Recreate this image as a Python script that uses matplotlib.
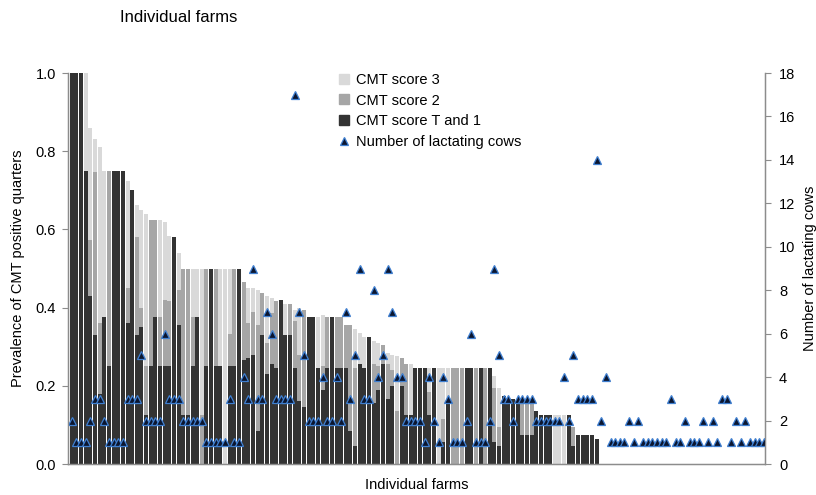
import matplotlib
matplotlib.use("Agg")
import matplotlib.pyplot as plt
from matplotlib.lines import Line2D
import numpy as np

plt.rcParams['font.family'] = ['Liberation Sans', 'DejaVu Sans']

# ---- data (farms sorted by prevalence) ----
score_t1 = [
    1.0, 1.0, 1.0, 0.75, 0.43, 0.33, 0.18, 0.375, 0.25, 0.75,
    0.75, 0.75, 0.36, 0.70, 0.33, 0.35, 0.125, 0.25, 0.375, 0.25,
    0.25, 0.25, 0.58, 0.355, 0.125, 0.125, 0.25, 0.375, 0.0, 0.25,
    0.5, 0.25, 0.25, 0.0, 0.25, 0.25, 0.5, 0.265, 0.27, 0.28,
    0.085, 0.33, 0.23, 0.255, 0.245, 0.42, 0.33, 0.33, 0.245, 0.16,
    0.145, 0.375, 0.375, 0.245, 0.19, 0.245, 0.375, 0.245, 0.245, 0.245,
    0.085, 0.045, 0.255, 0.245, 0.325, 0.155, 0.19, 0.255, 0.165, 0.2,
    0.0, 0.2, 0.125, 0.125, 0.245, 0.245, 0.245, 0.125, 0.245, 0.0,
    0.055, 0.155, 0.0, 0.0, 0.0, 0.245, 0.245, 0.0, 0.245, 0.0,
    0.245, 0.055, 0.045, 0.175, 0.165, 0.165, 0.165, 0.075, 0.075, 0.075,
    0.135, 0.125, 0.125, 0.125, 0.0, 0.0, 0.0, 0.125, 0.045, 0.075,
    0.075, 0.075, 0.075, 0.065,
]
score_2 = [
    0, 0, 0, 0, 0.143, 0.417, 0.18, 0, 0.5, 0,
    0, 0, 0.09, 0, 0.25, 0.05, 0.125, 0.375, 0.25, 0.125,
    0.17, 0.167, 0, 0.09, 0.375, 0.375, 0.125, 0, 0.125, 0.25,
    0, 0.25, 0, 0, 0.083, 0.25, 0, 0.2, 0.09, 0.11,
    0.27, 0.108, 0.08, 0.13, 0.171, 0, 0, 0.079, 0.12, 0.12,
    0.25, 0, 0, 0, 0.06, 0.13, 0, 0.13, 0.13, 0.11,
    0.27, 0.2, 0, 0, 0, 0.1, 0.06, 0.05, 0.09, 0.04,
    0.136, 0.07, 0.13, 0, 0, 0, 0, 0.06, 0, 0,
    0.06, 0, 0.245, 0.245, 0.245, 0, 0, 0.245, 0, 0.245,
    0, 0.14, 0.05, 0, 0, 0, 0, 0.09, 0.09, 0.09,
    0, 0, 0, 0, 0, 0, 0, 0, 0.05, 0,
    0, 0, 0, 0,
]
score_3 = [
    0, 0, 0, 0.25, 0.286, 0.083, 0.45, 0.375, 0, 0,
    0, 0, 0.273, 0, 0.083, 0.25, 0.39, 0, 0, 0.25,
    0.2, 0.166, 0, 0.094, 0, 0, 0.125, 0.125, 0.375, 0,
    0, 0, 0.25, 0.5, 0.167, 0, 0, 0, 0.09, 0.06,
    0.09, 0, 0.12, 0.04, 0, 0, 0.079, 0, 0.03, 0.12,
    0, 0, 0, 0.13, 0.13, 0, 0, 0, 0, 0,
    0, 0.1, 0.08, 0.08, 0, 0.06, 0.06, 0, 0.03, 0.04,
    0.14, 0, 0, 0.13, 0, 0, 0, 0.06, 0, 0.245,
    0.13, 0.09, 0, 0, 0, 0, 0, 0, 0, 0,
    0, 0.03, 0.10, 0, 0, 0, 0, 0, 0, 0,
    0, 0, 0, 0, 0.125, 0.125, 0.125, 0, 0, 0,
    0, 0, 0, 0,
]
lactating_cows = [
    2, 1, 1, 1, 2, 3, 3, 2, 1, 1,
    1, 1, 3, 3, 3, 5, 2, 2, 2, 2,
    6, 3, 3, 3, 2, 2, 2, 2, 2, 1,
    1, 1, 1, 1, 3, 1, 1, 4, 3, 9,
    3, 3, 7, 6, 3, 3, 3, 3, 17, 7,
    5, 2, 2, 2, 4, 2, 2, 4, 2, 7,
    3, 5, 9, 3, 3, 8, 4, 5, 9, 7,
    4, 4, 2, 2, 2, 2, 1, 4, 2, 1,
    4, 3, 1, 1, 1, 2, 6, 1, 1, 1,
    2, 9, 5, 3, 3, 2, 3, 3, 3, 3,
    2, 2, 2, 2, 2, 2, 4, 2, 5, 3,
    3, 3, 3, 14, 2, 4, 1, 1, 1, 1,
    2, 1, 2, 1, 1, 1, 1, 1, 1, 3,
    1, 1, 2, 1, 1, 1, 2, 1, 2, 1,
    3, 3, 1, 2, 1, 2, 1, 1, 1, 1,
]
left_ticks = [0.0, 0.2, 0.4, 0.6, 0.8, 1.0]
right_ticks = [0, 2, 4, 6, 8, 10, 12, 14, 16, 18]

n_farms = len(lactating_cows)
n_bars = len(score_t1)
xb = np.arange(n_bars)
xf = np.arange(n_farms)
d = np.array(score_t1)
m = np.array(score_2)
l = np.array(score_3)

C_DARK = '#333333'
C_MID = '#a6a6a6'
C_LIGHT = '#d9d9d9'
C_AX = '#8c8c8c'

fig = plt.figure(figsize=(8.16, 4.95), dpi=100)
ax = fig.add_axes([68.3 / 816, 1 - 464 / 495, (765 - 68.3) / 816, (464 - 73) / 495])

w = 0.86
ax.bar(xb, d, width=w, color=C_DARK, linewidth=0)
ax.bar(xb, m, width=w, bottom=d, color=C_MID, linewidth=0)
ax.bar(xb, l, width=w, bottom=d + m, color=C_LIGHT, linewidth=0)

ax.set_xlim(-0.75, n_farms - 0.75)
ax.set_ylim(0, 1.0)
ax.set_yticks(left_ticks)
ax.set_yticklabels([f"{v:.1f}" for v in left_ticks], fontsize=10.5)
ax.set_xticks([])
ax.spines['top'].set_visible(False)
for s in ('left', 'right', 'bottom'):
    ax.spines[s].set_color(C_AX)
    ax.spines[s].set_linewidth(1.0)
ax.tick_params(axis='y', direction='out', length=4, color=C_AX, pad=5)
ax.set_ylabel('Prevalence of CMT positive quarters', fontsize=10.5)
ax.yaxis.set_label_coords(-0.062, 0.5)
ax.set_xlabel('Individual farms', fontsize=10.5)
ax.xaxis.set_label_coords(0.5, -0.036)

ax2 = ax.twinx()
ax2.plot(xf, lactating_cows, linestyle='none', marker='^', markersize=5.2,
         markerfacecolor='#0b1630', markeredgecolor='#3f7fd0', markeredgewidth=0.9)
ax2.set_ylim(0, 18)
ax2.set_yticks(right_ticks)
ax2.set_yticklabels([str(v) for v in right_ticks], fontsize=10.5)
ax2.spines['top'].set_visible(False)
for s in ('left', 'right', 'bottom'):
    ax2.spines[s].set_color(C_AX)
ax2.tick_params(axis='y', direction='out', length=4, color=C_AX, pad=6)
ax2.set_ylabel('Number of lactating cows', fontsize=10.5)
ax2.yaxis.set_label_coords(1.055, 0.5)

handles = [
    Line2D([], [], linestyle='none', marker='s', markersize=7, color=C_LIGHT),
    Line2D([], [], linestyle='none', marker='s', markersize=7, color=C_MID),
    Line2D([], [], linestyle='none', marker='s', markersize=7, color=C_DARK),
    Line2D([], [], linestyle='none', marker='^', markersize=5.2,
           markerfacecolor='#0b1630', markeredgecolor='#3f7fd0', markeredgewidth=0.9),
]
labels = ['CMT score 3', 'CMT score 2', 'CMT score T and 1', 'Number of lactating cows']
ax2.legend(handles, labels, loc='upper left', bbox_to_anchor=(337 / 816, 1 - 73 / 495),
           bbox_transform=fig.transFigure, frameon=False, fontsize=10.5,
           handlelength=0.9, handletextpad=0.4, labelspacing=0.45,
           borderpad=0, borderaxespad=0)

fig.text(120 / 816, 1 - 18 / 495, 'Individual farms', fontsize=12, ha='left', va='center')

fig.savefig('out.png', dpi=100)
